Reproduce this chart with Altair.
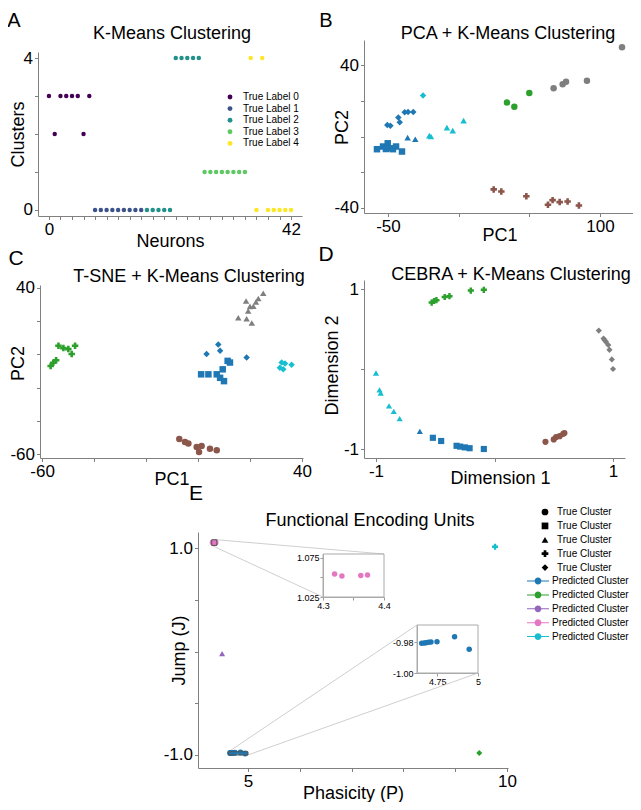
import altair as alt
import pandas as pd

FONT = "Liberation Sans"
W, H = 625, 794          # drawing area (page minus the 8px margins)
M = 8

# ---------------- Panel A : K-Means clustering of 43 neurons ----------------
a_neuron = list(range(43))
a_cluster = [3, 2, 3, 3, 3, 3, 2, 3,
             0, 0, 0, 0, 0, 0, 0, 0, 0,
             0, 0, 0, 0, 0, 4, 4, 4, 4, 4,
             1, 1, 1, 1, 1, 1, 1, 1,
             4, 0, 4, 0, 0, 0, 0, 0]
a_true = [0, 0, 0, 0, 0, 0, 0, 0,
          1, 1, 1, 1, 1, 1, 1, 1, 1,
          2, 2, 2, 2, 2, 2, 2, 2, 2, 2,
          3, 3, 3, 3, 3, 3, 3, 3,
          4, 4, 4, 4, 4, 4, 4, 4]
a_label_names = ["True Label 0", "True Label 1", "True Label 2", "True Label 3", "True Label 4"]
a_colors = ["#440154", "#3b528b", "#21918c", "#5ec962", "#fde725"]

# ---------------- shared categories for B-E ----------------
pred_domain = ["P0", "P1", "P2", "P3", "P4", "P5", "P6"]
pred_colors = ["#1f77b4", "#2ca02c", "#9467bd", "#e377c2", "#17becf", "#8c564b", "#7f7f7f"]
true_domain = ["T0", "T1", "T2", "T3", "T4"]
true_shapes = ["circle", "square", "triangle-up", "cross", "diamond"]

# (predicted cluster, true cluster, xs, ys)
b_groups = [
    ("P6", "T0", [115.6, 67.2, 73.6, 76.0, 90.8], [49.9, 27.0, 29.2, 30.7, 31.2]),
    ("P1", "T0", [34.2, 39.4, 50.0], [19.0, 16.7, 24.4]),
    ("P5", "T3", [24.8, 30.2, 47.9, 63.2, 66.5, 71.5, 77.1, 85.1],
     [-29.6, -30.8, -33.4, -38.2, -35.6, -36.7, -36.4, -38.6]),
    ("P4", "T4", [-25.2], [23.0]),
    ("P4", "T2", [-20.8, -19.6, -8.3, -4.2, 3.5], [0.5, 0.0, 5.0, 3.3, 8.9]),
    ("P0", "T4", [-50.5, -48.3, -42.7, -41.7, -38.2, -35.8, -32.1], [6.5, 6.0, 10.6, 8.0, 13.6, 13.7, 13.7]),
    ("P0", "T2", [-36.1, -30.7], [-0.6, -1.5]),
    ("P0", "T1", [-57.8, -53.5, -50.2, -48.3, -46.5, -44.3, -40.1, -51.5],
     [-7.1, -5.6, -3.8, -6.6, -7.1, -5.6, -8.4, -7.0]),
]
c_groups = [
    ("P1", "T3", [-56.7, -55.7, -54.6, -53.7, -51.8, -49.9, -48.6, -47.3],
     [-7.0, -5.0, -3.5, 5.2, 3.8, 3.2, 0.2, 5.2]),
    ("P6", "T2", [15.5, 18.5, 19.3, 20.0, 20.7, 18.7, 22.3, 23.2, 25.1, 21.3],
     [22.1, 32.2, 26.1, 28.9, 18.9, 21.5, 31.6, 33.7, 36.8, 29.0]),
    ("P0", "T4", [3.3, 7.8, 8.5, 18.7], [0.2, 5.9, 2.2, -1.9]),
    ("P0", "T1", [1.2, 4.0, 7.2, 9.5, 11.4, 8.5, 10.0, 12.3],
     [-12.0, -12.0, -12.0, -9.0, -3.9, -14.1, -16.1, -4.9]),
    ("P4", "T4", [32.2, 32.8, 36.0, 31.5, 33.5], [-4.9, -9.0, -6.3, -8.0, -5.5]),
    ("P5", "T0", [-7.2, -5.0, -3.7, -0.5, 0.4, 1.4, 4.6, 7.2],
     [-51.0, -52.7, -53.7, -55.7, -58.8, -55.1, -56.8, -57.7]),
]
d_groups = [
    ("P1", "T3", [-0.53, -0.51, -0.49, -0.42, -0.38, -0.20, -0.09],
     [0.83, 0.85, 0.86, 0.90, 0.91, 0.98, 0.99]),
    ("P6", "T4", [0.88, 0.92, 0.94, 0.96, 0.97, 0.99, 1.00, 0.93],
     [0.48, 0.38, 0.34, 0.30, 0.24, 0.12, 0.00, 0.36]),
    ("P4", "T2", [-1.00, -0.97, -0.96, -0.89, -0.85, -0.80],
     [-0.05, -0.26, -0.30, -0.46, -0.53, -0.62]),
    ("P0", "T2", [-0.63], [-0.78]),
    ("P0", "T1", [-0.52, -0.45, -0.32, -0.29, -0.25, -0.21, -0.09],
     [-0.86, -0.90, -0.96, -0.97, -0.98, -0.99, -1.00]),
    ("P5", "T0", [0.43, 0.50, 0.52, 0.55, 0.58, 0.59],
     [-0.91, -0.88, -0.85, -0.84, -0.81, -0.80]),
]
e_groups = [
    ("P3", "T0", [4.319, 4.331, 4.362, 4.373], [1.0545, 1.052, 1.0525, 1.053]),
    ("P0", "T0", [4.654, 4.669, 4.681, 4.696, 4.711, 4.748, 4.856, 4.946],
     [-0.9808, -0.9806, -0.9805, -0.9802, -0.9800, -0.9798, -0.9766, -0.9847]),
    ("P2", "T2", [4.5], [-0.02]),
    ("P4", "T3", [9.77], [1.013]),
    ("P1", "T4", [9.465], [-0.98]),
]

# inset windows (data domains)
pink_xdom, pink_ydom = [4.3, 4.4], [1.025, 1.08]
blue_xdom, blue_ydom = [4.625, 5.0], [-1.0, -0.969]

MINUS = "\u2212"


def frame(groups):
    rows = []
    for p, t, xs, ys in groups:
        for x, y in zip(xs, ys):
            rows.append({"x": x, "y": y, "pred": p, "true": t})
    return pd.DataFrame(rows)


def show(vals):
    cond = " || ".join(f"datum.value == {v}" for v in vals)
    return f"({cond}) ? replace(datum.label, '{MINUS}', '-') : ''"


def xaxis(axis_y, values, shown, title, title_y, fmt, **kw):
    return alt.Axis(orient="bottom", offset=axis_y - H, values=values, labelExpr=show(shown),
                    format=fmt, title=title, titleY=title_y, titleBaseline="alphabetic",
                    titleAlign="center", **kw)


def yaxis(axis_x, values, shown, title, title_x, title_y, fmt, **kw):
    return alt.Axis(orient="left", offset=-axis_x, values=values, labelExpr=show(shown),
                    format=fmt, title=title, titleX=title_x, titleY=title_y, titleAngle=270,
                    titleBaseline="alphabetic", titleAlign="center", **kw)


def sc(dom, rng):
    return alt.Scale(domain=dom, range=rng, nice=False, zero=False)


def scatter(groups, xs, ys, xax, yax, size):
    return alt.Chart(frame(groups)).mark_point(filled=True, size=size, opacity=1).encode(
        x=alt.X("x:Q", scale=xs, axis=xax),
        y=alt.Y("y:Q", scale=ys, axis=yax),
        color=alt.Color("pred:N", scale=alt.Scale(domain=pred_domain, range=pred_colors), legend=None),
        shape=alt.Shape("true:N", scale=alt.Scale(domain=true_domain, range=true_shapes), legend=None),
    )


# ---------------- Panel A ----------------
a_df = pd.DataFrame({"n": a_neuron, "c": a_cluster,
                     "lab": [a_label_names[t] for t in a_true]})
panel_a = alt.Chart(a_df).mark_circle(size=20, opacity=1).encode(
    x=alt.X("n:Q", scale=sc([-1.9, 43.9], [30, 294]),
            axis=xaxis(208, list(range(0, 43, 2)), [0, 42], "Neurons", 30, "d")),
    y=alt.Y("c:Q", scale=sc([-0.16, 4.16], [208, 44]),
            axis=yaxis(30, [0, 1, 2, 3, 4], [0, 4], "Clusters", -15, 126, "d")),
    color=alt.Color("lab:N", scale=alt.Scale(domain=a_label_names, range=a_colors),
                    legend=alt.Legend(orient="none", legendX=217, legendY=84, title=None,
                                      direction="vertical", labelFontSize=10, symbolSize=24,
                                      symbolType="circle", rowPadding=1.6, labelOffset=8,
                                      padding=0, symbolStrokeWidth=0)),
)

# ---------------- Panel B ----------------
panel_b = scatter(b_groups, sc([-66.98, 124.8], [356, 627]), sc([-42.8, 54.0], [205, 32]),
                  xaxis(205, [-50, 0, 50, 100], [-50, 100], "PC1", 27, "d"),
                  yaxis(356, [-40, -20, 0, 20, 40], [-40, 40], "PC2", -17, 119, "d"), 42)

# ---------------- Panel C ----------------
panel_c = scatter(c_groups, sc([-60.8, 40.4], [32, 295]), sc([-62.4, 41.8], [450, 277]),
                  xaxis(450, [-60, -40, -20, 0, 20, 40], [-60, 40], "PC1", 26, "d"),
                  yaxis(32, [-60, -40, -20, 0, 20, 40], [-60, 40], "PC2", -17, 355, "d"), 42)

# ---------------- Panel D ----------------
panel_d = scatter(d_groups, sc([-1.101, 1.101], [356, 617]), sc([-1.1125, 1.1125], [450, 272]),
                  xaxis(450, [-1, -0.75, -0.5, -0.25, 0, 0.25, 0.5, 0.75, 1], [-1, 1],
                        "Dimension 1", 25, "d", titleX=492),
                  yaxis(356, [-1, -0.5, 0, 0.5, 1], [-1, 1], "Dimension 2", -27, 357, "d"), 38)

# ---------------- Panel E ----------------
E_PRED = pred_domain[:5]
E_COL = pred_colors[:5]
LINE_DOT = ("M-2.75,-0.13L-0.8,-0.13L-0.8,0.13L-2.75,0.13Z "
            "M0.8,-0.13L2.75,-0.13L2.75,0.13L0.8,0.13Z "
            "M0.85,0A0.85,0.85 0 1,1 -0.85,0A0.85,0.85 0 1,1 0.85,0Z")

E_XDOM, E_XRNG = [4.035, 10.02], [190, 500]
E_YDOM, E_YRNG = [-1.126, 1.155], [760, 524]

e_points = alt.Chart(frame(e_groups)).mark_point(filled=True, size=36, opacity=1).encode(
    x=alt.X("x:Q", scale=sc(E_XDOM, E_XRNG),
            axis=xaxis(760, [5, 6, 7, 8, 9, 10], [5, 10], "Phasicity (P)", 30, "d")),
    y=alt.Y("y:Q", scale=sc(E_YDOM, E_YRNG),
            axis=yaxis(190, [-1, -0.5, 0, 0.5, 1], [-1, 1], "Jump (J)", -14, 642, ".1f")),
    color=alt.Color("pred:N", scale=alt.Scale(domain=E_PRED, range=E_COL),
                    legend=alt.Legend(orient="none", legendX=525, legendY=568, title=None,
                                      direction="vertical", labelExpr="'Predicted Cluster'",
                                      symbolType=LINE_DOT, symbolSize=64, symbolStrokeWidth=0,
                                      labelFontSize=10, rowPadding=3.9, labelOffset=9, padding=0)),
    shape=alt.Shape("true:N", scale=alt.Scale(domain=true_domain, range=true_shapes),
                    legend=alt.Legend(orient="none", legendX=532, legendY=499, title=None,
                                      direction="vertical", labelExpr="'True Cluster'",
                                      symbolSize=45, symbolFillColor="black", symbolStrokeWidth=0,
                                      labelFontSize=10, rowPadding=3.9, labelOffset=7, padding=0)),
)

# indicator rectangles (zoom windows drawn on the main axes)
ind_df = pd.DataFrame({"x": [pink_xdom[0], blue_xdom[0]], "x2": [pink_xdom[1], blue_xdom[1]],
                       "y": [pink_ydom[0], blue_ydom[0]], "y2": [pink_ydom[1], blue_ydom[1]]})
indicators = alt.Chart(ind_df).mark_rect(fillOpacity=0, stroke="#555555", strokeWidth=1).encode(
    x=alt.X("x:Q", scale=sc(E_XDOM, E_XRNG), axis=None), x2="x2:Q",
    y=alt.Y("y:Q", scale=sc(E_YDOM, E_YRNG), axis=None), y2="y2:Q")

PINK_BOX = (315, 376, 589, 546)   # left, right, bottom, top (px)
BLUE_BOX = (409, 470, 665, 617)


def connector(xv, yv, px_, py_):
    return alt.Chart(pd.DataFrame({"x": [xv], "y": [yv]})).mark_rule(
        color="#cfcfcf", strokeWidth=1).encode(
        x=alt.X("x:Q", scale=sc(E_XDOM, E_XRNG), axis=None),
        y=alt.Y("y:Q", scale=sc(E_YDOM, E_YRNG), axis=None),
        x2=alt.value(px_), y2=alt.value(py_))


conns = [
    connector(pink_xdom[1], pink_ydom[1], PINK_BOX[1], PINK_BOX[3]),
    connector(pink_xdom[0], pink_ydom[0], PINK_BOX[0], PINK_BOX[2]),
    connector(blue_xdom[0], blue_ydom[1], BLUE_BOX[0], BLUE_BOX[3]),
    connector(blue_xdom[1], blue_ydom[0], BLUE_BOX[1], BLUE_BOX[2]),
]


def inset(groups, xdom, ydom, box, xvals, xshow, xfmt, yvals, yshow, yfmt):
    xs = sc(xdom, [box[0], box[1]])
    ys = sc(ydom, [box[2], box[3]])
    ax_kw = dict(labelFontSize=9, tickSize=3, labelPadding=1, domainColor="#aaaaaa", tickColor="#999999")
    box_df = pd.DataFrame({"x": [xdom[0]], "x2": [xdom[1]], "y": [ydom[0]], "y2": [ydom[1]]})
    frame_mark = alt.Chart(box_df).mark_rect(fillOpacity=0, stroke="#aaaaaa", strokeWidth=1).encode(
        x=alt.X("x:Q", scale=xs, axis=None), x2="x2:Q",
        y=alt.Y("y:Q", scale=ys, axis=None), y2="y2:Q")
    pts = alt.Chart(frame(groups)).mark_circle(size=30, opacity=1).encode(
        x=alt.X("x:Q", scale=xs, axis=xaxis(box[2], xvals, xshow, None, 0, xfmt, **ax_kw)),
        y=alt.Y("y:Q", scale=ys, axis=yaxis(box[0], yvals, yshow, None, 0, 0, yfmt, **ax_kw)),
        color=alt.Color("pred:N", scale=alt.Scale(domain=pred_domain, range=pred_colors), legend=None),
    )
    return [frame_mark, pts]


inset_pink = inset(e_groups[:1], pink_xdom, pink_ydom, PINK_BOX,
                   [4.3, 4.35, 4.4], [4.3, 4.4], ".1f", [1.025, 1.05, 1.075], [1.025, 1.075], ".3f")
inset_blue = inset(e_groups[1:2], blue_xdom, blue_ydom, BLUE_BOX,
                   [4.75, 5.0], [4.75, 5.0], ".3~g", [-1.0, -0.98], [-1.0, -0.98], ".2f")


# ---------------- text annotations (page coordinates) ----------------
def note(s, x, y, size):
    return alt.Chart(pd.DataFrame({"t": [s]})).mark_text(
        font=FONT, fontSize=size, align="center", baseline="alphabetic", color="black").encode(
        x=alt.value(x - M), y=alt.value(y - M), text="t:N")


notes = [
    note("A", 14, 27, 20), note("B", 326, 27, 20), note("C", 16, 265, 21),
    note("D", 326, 261, 21), note("E", 196, 500, 21),
    note("K-Means Clustering", 172, 39, 18),
    note("PCA + K-Means Clustering", 508, 39, 18),
    note("T-SNE + K-Means Clustering", 189, 282, 18),
    note("CEBRA + K-Means Clustering", 511, 280, 18),
    note("Functional Encoding Units", 370, 526, 18),
]

layers = [panel_a, panel_b, panel_c, panel_d, *conns, e_points, indicators,
          *inset_pink, *inset_blue, *notes]

chart = alt.layer(*layers).resolve_scale(
    x="independent", y="independent", color="independent", shape="independent"
).properties(
    width=W, height=H, autosize=alt.AutoSizeParams(type="none"), padding=0
).configure(font=FONT, background="white").configure_view(stroke=None).configure_axis(
    labelFont=FONT, labelFontSize=17, labelColor="black", titleFont=FONT, titleFontSize=18,
    titleColor="black", titleFontWeight="normal", domainColor="#808080", tickColor="#808080",
    domainWidth=1, tickWidth=1, tickSize=3.5, labelPadding=2, grid=False, labelFlush=False,
    labelOverlap=False
).configure_legend(labelFont=FONT, labelColor="black")

chart.save("out.html", embed_options={"renderer": "svg", "actions": False})
